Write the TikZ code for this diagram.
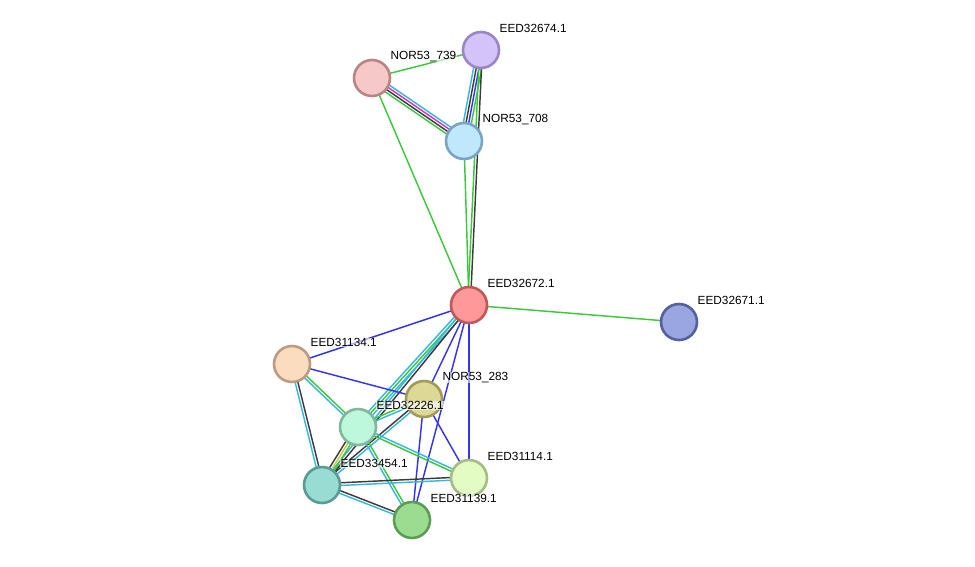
\documentclass[tikz,border=0pt]{standalone}
\usepackage{fontspec}
\setmainfont{Liberation Sans}
\usetikzlibrary{calc,backgrounds}
\definecolor{nbhcol}{HTML}{3CC83C}
\definecolor{cdbcol}{HTML}{38B8D8}
\definecolor{cxpcol}{HTML}{3C3C3C}
\definecolor{coccol}{HTML}{3434F0}
\definecolor{expcol}{HTML}{D034D0}
\definecolor{txtcol}{HTML}{C8C83C}
\tikzset{
  prot/.style={circle,minimum size=36pt,inner sep=0pt,line width=2.6pt},
  lbl/.style={anchor=west,inner sep=0.5pt,fill=white,fill opacity=0.6,text opacity=1,
    font=\fontsize{11.8}{14}\selectfont},
  edge/.style={line width=1.45pt},
  nbh/.style={edge,nbhcol},
  cdb/.style={edge,cdbcol},
  cxp/.style={edge,cxpcol},
  coc/.style={edge,coccol},
  exp/.style={edge,expcol},
  txt/.style={edge,txtcol}
}
% one line per evidence channel, shifted sideways
\newcommand{\evid}[3]{%
  \foreach \kind/\off in {#3}
    \draw[\kind] ($(#1)!\off!90:(#2)$) -- ($(#2)!\off!-90:(#1)$);}
\newcommand{\prot}[5]{%
  \definecolor{#1fill}{HTML}{#4}\definecolor{#1rim}{HTML}{#5}%
  \node[prot,fill=#1fill,draw=#1rim] (#1) at (#2) {};
  \node[lbl] (#1-l) at ([xshift=18pt,yshift=21.5pt]#1.center) {#3};}
\begin{document}
\begin{tikzpicture}[x=1pt,y=-1pt]
\useasboundingbox (0,0) rectangle (975,566);
\prot{e674}{481,50}{EED32674.1}{D4C2FB}{9A85C8}
\prot{n739}{372,78}{NOR53\_739}{F7C8C8}{B88484}
\prot{n708}{464,141}{NOR53\_708}{C0E8FC}{7AA4C2}
\prot{e672}{469,305}{EED32672.1}{FF9898}{C05858}
\prot{e671}{679,322}{EED32671.1}{9AA6E2}{5560A0}
\prot{e134}{292,364}{EED31134.1}{FCDCBE}{BC9C80}
\prot{n283}{424,399}{NOR53\_283}{DCD896}{A09C58}
\prot{e226}{358,427}{EED32226.1}{BEF8DC}{80B89C}
\prot{e114}{469,478}{EED31114.1}{E2FCC4}{A4BC86}
\prot{e454}{322,485}{EED33454.1}{98DCD4}{5A9C94}
\prot{e139}{412,520}{EED31139.1}{9CDC90}{5C9C54}
\begin{scope}[on background layer]
% upper group
\evid{n739}{e674}{nbh/0pt}
\evid{n739}{n708}{cdb/4pt,exp/1.35pt,cxp/-1.35pt,nbh/-4pt}
\evid{e674}{n708}{cdb/-4pt,cxp/-1.35pt,coc/1.35pt,nbh/4pt}
\evid{e674}{e672}{nbh/-1.35pt,cxp/1.35pt}
\evid{n708}{e672}{nbh/0pt}
\evid{n739}{e672}{nbh/0pt}
\evid{e672}{e671}{nbh/0pt}
% lower group
\evid{e672}{e134}{coc/0pt}
\evid{e672}{n283}{coc/0pt}
\evid{e672}{e139}{coc/0pt}
\evid{e672}{e114}{coc/0pt}
\evid{e672}{e226}{cdb/-2.7pt,nbh/0pt,cdb/2.7pt}
\evid{e672}{e454}{cdb/-1.35pt,cxp/1.35pt}
\evid{e134}{n283}{coc/0pt}
\evid{n283}{e139}{coc/0pt}
\evid{n283}{e114}{coc/0pt}
\evid{n283}{e226}{nbh/-1.35pt,cdb/1.35pt}
\evid{n283}{e454}{cxp/-1.35pt,cdb/1.35pt}
\evid{e134}{e226}{nbh/1.35pt,cdb/-1.35pt}
\evid{e134}{e454}{cxp/1.35pt,cdb/-1.35pt}
\evid{e226}{e454}{nbh/2.7pt,txt/0pt,cxp/-2.7pt}
\evid{e226}{e114}{nbh/-1.35pt,cdb/1.35pt}
\evid{e226}{e139}{nbh/1.35pt,cdb/-1.35pt}
\evid{e454}{e114}{cxp/1.35pt,cdb/-1.35pt}
\evid{e454}{e139}{cxp/1.35pt,cdb/-1.35pt}
\end{scope}
\end{tikzpicture}
\end{document}
